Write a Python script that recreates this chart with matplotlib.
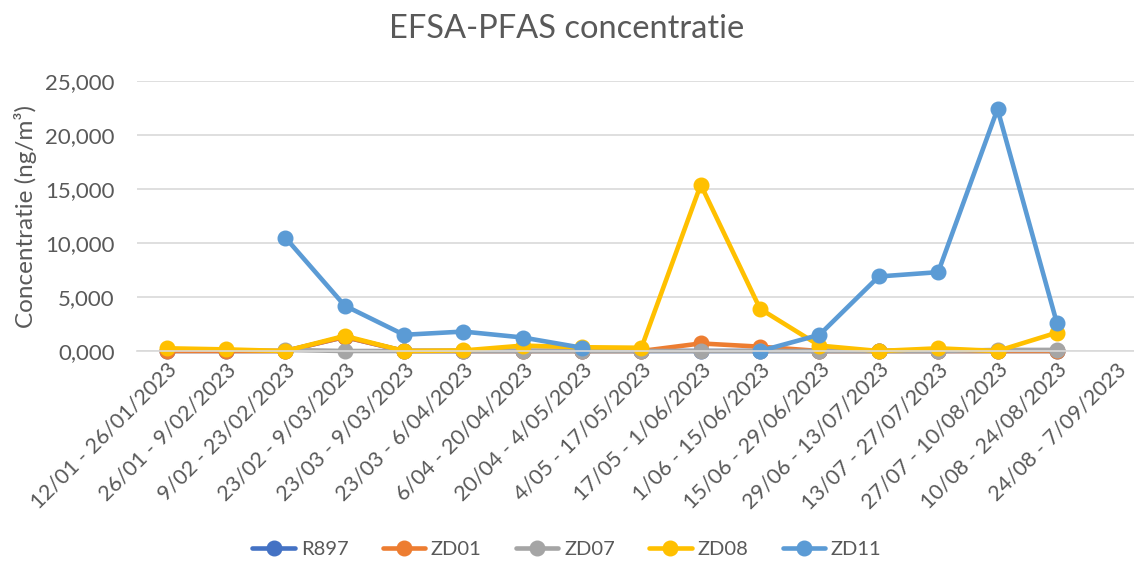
import numpy as np
import matplotlib
matplotlib.use("Agg")
import matplotlib.pyplot as plt

plt.rcParams['font.family'] = ['Lato', 'DejaVu Sans']

nan = np.nan

periods = ["12/01 - 26/01/2023", "26/01 - 9/02/2023", "9/02 - 23/02/2023",
           "23/02 - 9/03/2023", "23/03 - 9/03/2023", "23/03 - 6/04/2023",
           "6/04 - 20/04/2023", "20/04 - 4/05/2023", "4/05 - 17/05/2023",
           "17/05 - 1/06/2023", "1/06 - 15/06/2023", "15/06 - 29/06/2023",
           "29/06 - 13/07/2023", "13/07 - 27/07/2023", "27/07 - 10/08/2023",
           "10/08 - 24/08/2023", "24/08 - 7/09/2023"]

r897 = [0, 0, 0, 1300, 0, 0, 0, 0, 0, 0, 0, 0, 0, 0, 0, 0, nan]
zd01 = [0, 0, 0, 1300, 0, 0, 0, 0, 0, 700, 400, 0, 0, 0, 0, 0, nan]
zd07 = [nan, nan, 100, 0, 0, 0, 0, 0, 0, 0, 0, 0, 0, 0, 100, 100, nan]
zd08 = [250, 150, 0, 1400, 0, 50, 500, 350, 300, 15400, 3900, 500, 0, 250, 0, 1700, nan]
zd11 = [nan, nan, 10500, 4200, 1500, 1800, 1250, 300, nan, nan, 0, 1500, 6900, 7300, 22400, 2600, nan]

series = [("R897", r897, "#4472C4"), ("ZD01", zd01, "#ED7D31"),
          ("ZD07", zd07, "#A5A5A5"), ("ZD08", zd08, "#FFC000"),
          ("ZD11", zd11, "#5B9BD5")]

yticks = [0, 5000, 10000, 15000, 20000, 25000]
ytick_labels = ["0,000", "5,000", "10,000", "15,000", "20,000", "25,000"]

txt = "#595959"

fig = plt.figure(figsize=(11.34, 5.72), dpi=100)
ax = fig.add_axes([137 / 1134, 221 / 572, 1 - 137 / 1134, 270 / 572])

x = np.arange(len(periods))
for name, vals, col in series:
    ax.plot(x, vals, color=col, lw=3.3, marker='o', markersize=10.5,
            solid_capstyle='round', label=name, clip_on=False)

ax.set_xlim(-0.5, 16.3)
ax.set_ylim(0, 25000)
ax.set_yticks(yticks)
ax.set_yticklabels(ytick_labels)
ax.set_xticks(x)
ax.set_xticklabels(periods, rotation=45, ha='right', rotation_mode='anchor')
ax.tick_params(axis='both', length=0, colors=txt)
ax.tick_params(axis='x', pad=6, labelsize=15.5)
ax.tick_params(axis='y', pad=16, labelsize=16)
ax.grid(axis='y', color='#D9D9D9', lw=1.2)
ax.set_axisbelow(True)
for s in ['top', 'right', 'left']:
    ax.spines[s].set_visible(False)
ax.spines['bottom'].set_color('#D9D9D9')
ax.spines['bottom'].set_linewidth(1.2)

ax.set_ylabel("Concentratie (ng/m³)", color=txt, fontsize=17.5, labelpad=6)
fig.text(0.5, 0.95, "EFSA-PFAS concentratie", ha='center', va='center',
         color=txt, fontsize=23.5)

fig.legend(loc='lower center', ncol=5, frameon=False, fontsize=14.5,
           labelcolor=txt, handlelength=2.1, handletextpad=0.3,
           columnspacing=1.7, borderpad=0.2, bbox_to_anchor=(0.5, 0.0))

fig.savefig("out.png", dpi=100)
